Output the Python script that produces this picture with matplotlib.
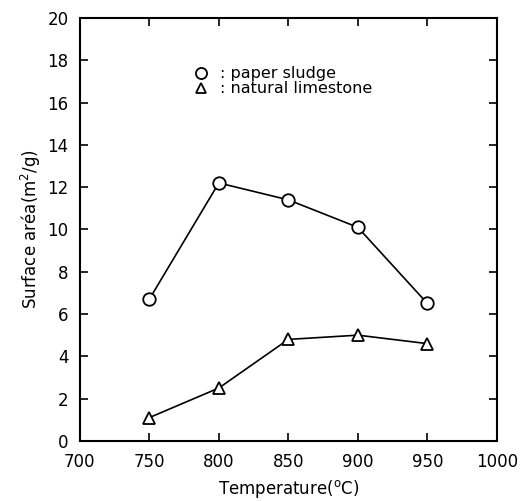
import numpy as np
import matplotlib.pyplot as plt
from matplotlib.lines import Line2D

temps     = [750, 800, 850, 900, 950]
sludge    = [6.7, 12.2, 11.4, 10.1, 6.5]
limestone = [1.1, 2.5, 4.8, 5.0, 4.6]

plt.rcParams['font.family'] = 'DejaVu Sans'

fig = plt.figure(figsize=(5.32, 5.01), dpi=100)
ax = fig.add_axes([0.150, 0.120, 0.784, 0.844])

ax.plot(temps, sludge, c='k', lw=1.2, marker='o', ms=9, mfc='white', mec='k', mew=1.3)
ax.plot(temps, limestone, c='k', lw=1.2, marker='^', ms=9, mfc='white', mec='k', mew=1.3)

ax.set_xlim(700, 1000)
ax.set_ylim(0, 20)
ax.set_xticks(np.arange(700, 1001, 50))
ax.set_yticks(np.arange(0, 21, 2))
ax.tick_params(direction='in', top=True, right=True, length=6, width=1.2, labelsize=12)
ax.tick_params(axis='x', pad=9)
ax.tick_params(axis='y', pad=8)
for s in ax.spines.values():
    s.set_linewidth(1.5)

ax.set_xlabel('Temperature($^{\\mathrm{o}}$C)', fontsize=12, labelpad=5)
ax.set_ylabel('Surface aréa(m$^{\\mathrm{2}}$/g)', fontsize=12, labelpad=3)

handles = [
    Line2D([], [], ls='none', marker='o', ms=8, mfc='white', mec='k', mew=1.3),
    Line2D([], [], ls='none', marker='^', ms=7, mfc='white', mec='k', mew=1.3),
]
ax.legend(handles, [': paper sludge', ': natural limestone'], frameon=False,
          loc='upper left', bbox_to_anchor=(0.252, 0.905), fontsize=11.5,
          handlelength=1.0, handletextpad=0.7, labelspacing=0.0, borderpad=0)

fig.savefig('out.png', dpi=100)
